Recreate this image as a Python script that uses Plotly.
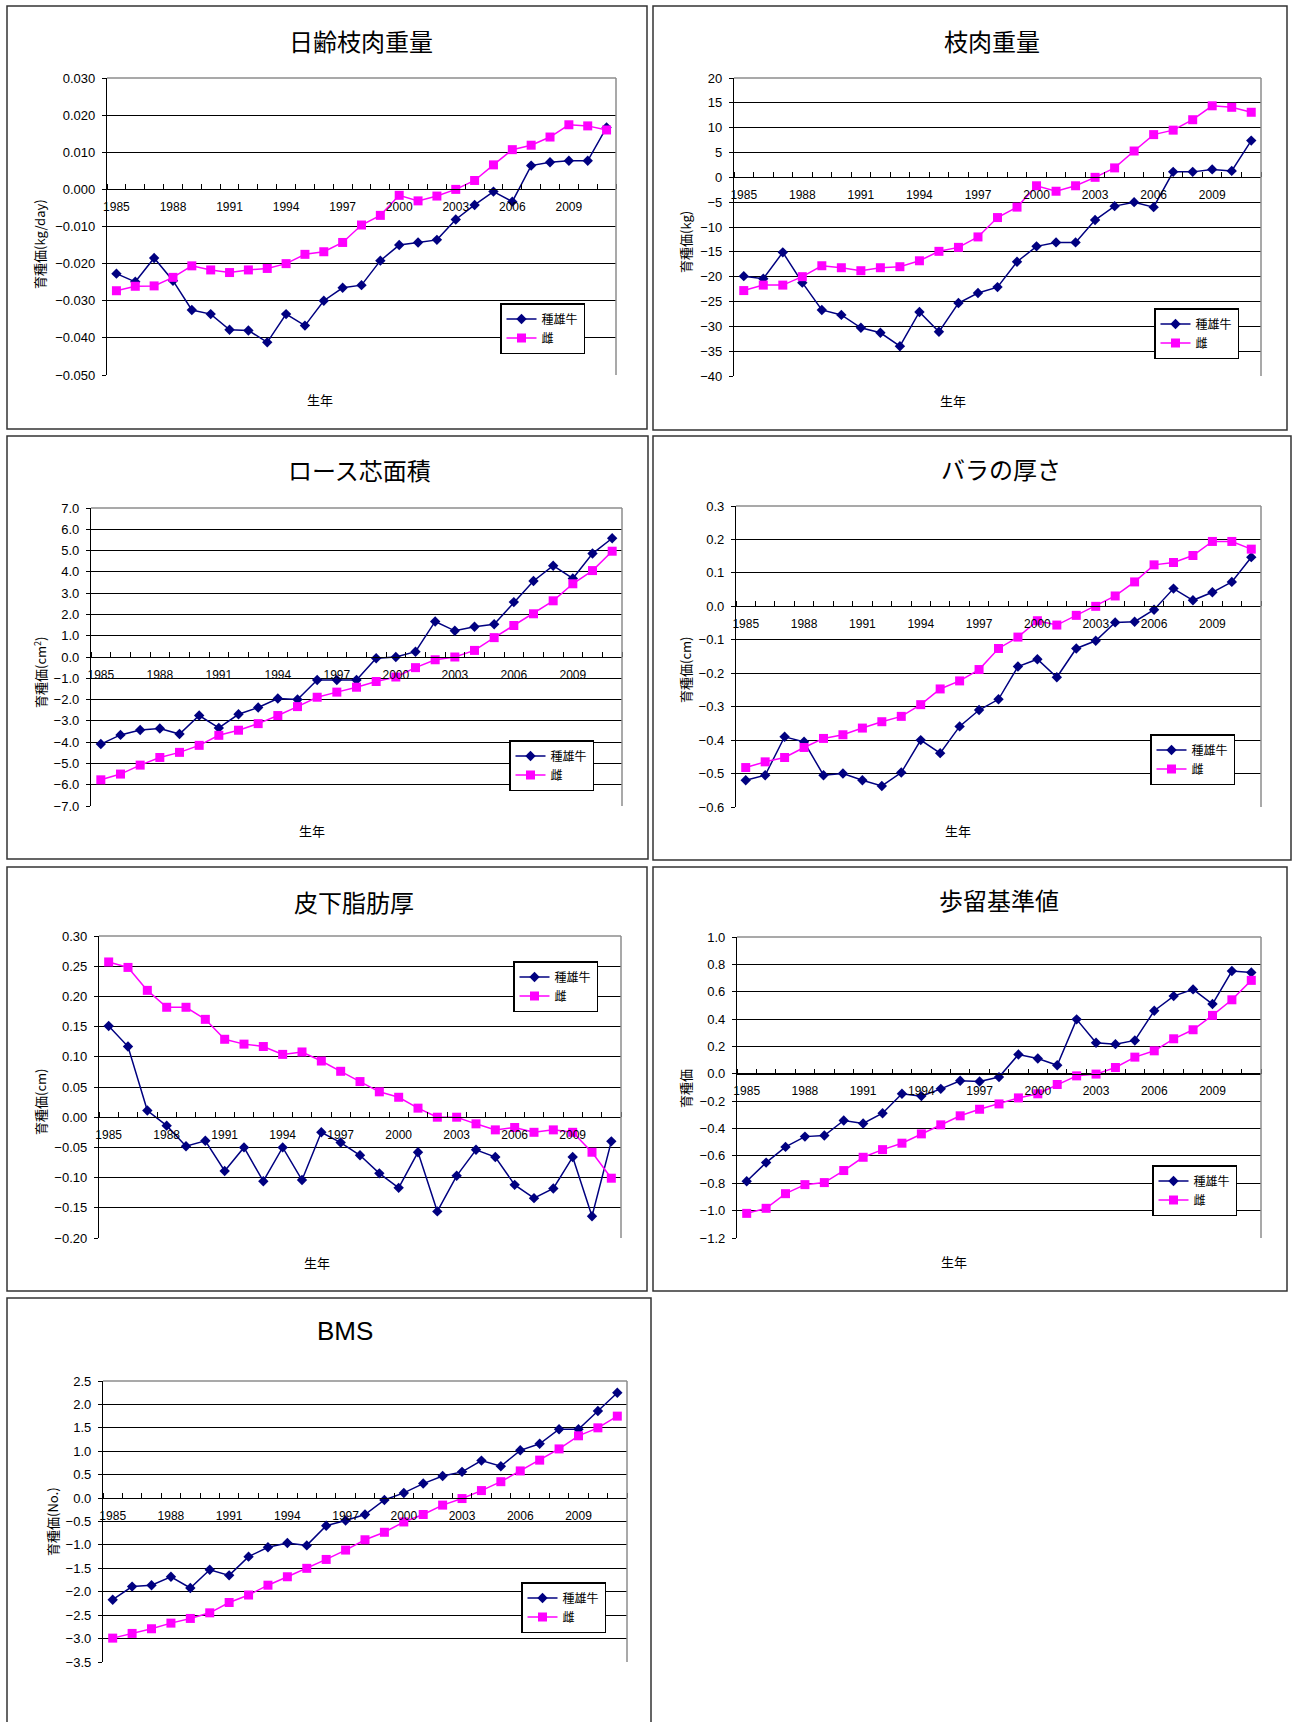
import plotly.graph_objects as go

W, H = 1293, 1722

years = [1985, 1986, 1987, 1988, 1989, 1990, 1991, 1992, 1993, 1994, 1995, 1996, 1997, 1998,
         1999, 2000, 2001, 2002, 2003, 2004, 2005, 2006, 2007, 2008, 2009, 2010, 2011]
year_labels = [1985, 1988, 1991, 1994, 1997, 2000, 2003, 2006, 2009]
series_names = ["種雄牛", "雌"]

# 日齢枝肉重量
bull_daily = [-0.0227, -0.0249, -0.0185, -0.0246, -0.0325, -0.0336, -0.0378, -0.0380, -0.0412, -0.0336,
              -0.0367, -0.0300, -0.0265, -0.0258, -0.0192, -0.0150, -0.0143, -0.0136, -0.0081, -0.0042,
              -0.0006, -0.0033, 0.0064, 0.0073, 0.0077, 0.0077, 0.0167]
cow_daily = [-0.0273, -0.0261, -0.0260, -0.0237, -0.0206, -0.0217, -0.0224, -0.0217, -0.0213, -0.0200,
             -0.0175, -0.0168, -0.0143, -0.0096, -0.0070, -0.0016, -0.0031, -0.0018, 0.0000, 0.0024,
             0.0066, 0.0107, 0.0119, 0.0141, 0.0174, 0.0171, 0.0160]
# 枝肉重量
bull_carcass = [-19.9, -20.4, -15.1, -21.2, -26.7, -27.7, -30.3, -31.3, -34.0, -27.1, -31.1, -25.3, -23.3,
                -22.1, -17.0, -13.9, -13.1, -13.1, -8.6, -5.8, -5.0, -6.0, 1.1, 1.1, 1.6, 1.3, 7.4]
cow_carcass = [-22.8, -21.7, -21.7, -20.0, -17.8, -18.2, -18.8, -18.2, -18.0, -16.8, -14.9, -14.1, -12.0,
               -8.1, -6.0, -1.7, -2.8, -1.7, 0.0, 1.9, 5.3, 8.6, 9.5, 11.6, 14.4, 14.1, 13.1]
# ロース芯面積
bull_rib = [-4.09, -3.66, -3.43, -3.36, -3.62, -2.75, -3.33, -2.69, -2.37, -1.95, -2.00, -1.08, -1.08,
            -1.08, -0.06, 0.00, 0.25, 1.67, 1.23, 1.42, 1.54, 2.58, 3.57, 4.29, 3.69, 4.86, 5.58]
cow_rib = [-5.77, -5.50, -5.08, -4.72, -4.48, -4.15, -3.68, -3.44, -3.13, -2.75, -2.33, -1.89, -1.65,
           -1.42, -1.15, -0.94, -0.50, -0.13, 0.00, 0.31, 0.91, 1.48, 2.03, 2.64, 3.44, 4.06, 4.97]
# バラの厚さ
bull_rib_thick = [-0.520, -0.505, -0.390, -0.405, -0.505, -0.500, -0.520, -0.537, -0.497, -0.400, -0.439,
                  -0.359, -0.310, -0.278, -0.180, -0.158, -0.212, -0.126, -0.103, -0.048, -0.046, -0.010,
                  0.053, 0.018, 0.042, 0.073, 0.147]
cow_rib_thick = [-0.482, -0.465, -0.452, -0.422, -0.395, -0.384, -0.364, -0.345, -0.329, -0.294, -0.247,
                 -0.223, -0.189, -0.126, -0.092, -0.043, -0.056, -0.027, 0.000, 0.031, 0.073, 0.124,
                 0.131, 0.152, 0.194, 0.194, 0.171]
# 皮下脂肪厚
bull_fat = [0.151, 0.117, 0.011, -0.014, -0.048, -0.039, -0.089, -0.050, -0.106, -0.050, -0.104, -0.025,
            -0.042, -0.063, -0.093, -0.117, -0.058, -0.156, -0.097, -0.054, -0.066, -0.112, -0.134,
            -0.118, -0.066, -0.164, -0.040]
cow_fat = [0.257, 0.248, 0.210, 0.182, 0.182, 0.162, 0.129, 0.121, 0.117, 0.104, 0.108, 0.093, 0.076,
           0.059, 0.042, 0.033, 0.015, 0.000, 0.000, -0.011, -0.021, -0.017, -0.025, -0.021, -0.025,
           -0.058, -0.101]
# 歩留基準値
bull_yield = [-0.785, -0.649, -0.534, -0.459, -0.451, -0.341, -0.363, -0.288, -0.146, -0.163, -0.110,
              -0.051, -0.056, -0.024, 0.141, 0.112, 0.063, 0.398, 0.227, 0.217, 0.244, 0.461, 0.568,
              0.617, 0.510, 0.751, 0.741]
cow_yield = [-1.020, -0.983, -0.876, -0.810, -0.795, -0.707, -0.610, -0.554, -0.507, -0.439, -0.373,
             -0.307, -0.259, -0.220, -0.176, -0.146, -0.078, -0.015, -0.002, 0.046, 0.122, 0.168,
             0.256, 0.322, 0.427, 0.541, 0.683]
# BMS
bull_bms = [-2.17, -1.89, -1.86, -1.68, -1.92, -1.53, -1.65, -1.25, -1.05, -0.96, -1.01, -0.59, -0.48,
            -0.35, -0.04, 0.11, 0.31, 0.47, 0.56, 0.80, 0.68, 1.02, 1.16, 1.47, 1.47, 1.86, 2.25]
cow_bms = [-2.99, -2.89, -2.79, -2.67, -2.57, -2.45, -2.23, -2.07, -1.86, -1.68, -1.50, -1.31, -1.11,
           -0.89, -0.73, -0.51, -0.35, -0.15, -0.01, 0.16, 0.35, 0.58, 0.81, 1.05, 1.33, 1.50, 1.75]

titles = ["日齢枝肉重量", "枝肉重量", "ロース芯面積", "バラの厚さ", "皮下脂肪厚", "歩留基準値", "BMS"]
y_titles = ["育種価(kg/day)", "育種価(kg)", "育種価(cm<sup>2</sup>)", "育種価(cm)", "育種価(cm)",
            "育種価", "育種価(No.)"]
x_title = "生年"
bull_series = [bull_daily, bull_carcass, bull_rib, bull_rib_thick, bull_fat, bull_yield, bull_bms]
cow_series = [cow_daily, cow_carcass, cow_rib, cow_rib_thick, cow_fat, cow_yield, cow_bms]

# axis settings: (min, max, dtick, format)
y_axes = [(-0.05, 0.03, 0.01, ".3f"), (-40, 20, 5, "d"), (-7, 7, 1, ".1f"), (-0.6, 0.3, 0.1, ".1f"),
          (-0.2, 0.3, 0.05, ".2f"), (-1.2, 1.0, 0.2, ".1f"), (-3.5, 2.5, 0.5, ".1f")]

# layout in pixels
plot_boxes = [(107, 616, 78, 375), (734, 1261, 78, 376), (91, 622, 508, 806), (736, 1261, 506, 807),
              (99, 621, 936, 1238), (737, 1261, 937, 1238), (103, 627, 1381, 1662)]
frames = [(7, 647, 6, 429), (653, 1287, 6, 430), (7, 648, 436, 859), (653, 1291, 436, 860),
          (7, 647, 867, 1291), (653, 1287, 867, 1291), (7, 651, 1298, 1740)]
title_pos = [(361, 40), (992, 40), (359, 470), (1001, 469), (354, 901), (999, 899), (345, 1331)]
ytitle_pos = [(40, 244), (686, 242), (40, 672), (685, 670), (40, 1102), (685, 1089), (52, 1522)]
xtitle_pos = [(320, 400), (953, 401), (312, 830), (958, 830), (317, 1262), (954, 1261), None]
legend_pos = [(500, 303), (1154, 308), (509, 740), (1150, 734), (513, 961), (1152, 1165), (521, 1582)]

NAVY = "#000080"
MAGENTA = "#FF00FF"
FONT = "Liberation Sans, Noto Sans CJK JP, sans-serif"
CJK = "Noto Sans CJK JP, sans-serif"


def px(x):
    return x / W


def py(y):
    return 1 - y / H


fig = go.Figure()
layout = dict(
    width=W, height=H, autosize=False,
    margin=dict(l=0, r=0, t=0, b=0, pad=0, autoexpand=False),
    paper_bgcolor="white", plot_bgcolor="white",
    font=dict(family=FONT, size=12, color="black"),
    showlegend=True,
)
shapes = []
annotations = []

for i in range(7):
    n = "" if i == 0 else str(i + 1)
    xa, ya = "xaxis" + n, "yaxis" + n
    xr, yr = "x" + n, "y" + n
    l, r, t, b = plot_boxes[i]
    ymin, ymax, dt, fmt = y_axes[i]
    yd0, yd1 = py(b), py(t)
    zero_pos = yd0 + (0 - ymin) / (ymax - ymin) * (yd1 - yd0)
    legname = "legend" if i == 0 else "legend" + str(i + 1)

    fig.add_trace(go.Scatter(
        x=years, y=bull_series[i], name=series_names[0], mode="lines+markers",
        line=dict(color=NAVY, width=1.5), marker=dict(symbol="diamond", size=8, color=NAVY),
        xaxis=xr, yaxis=yr, legend=legname, cliponaxis=False))
    fig.add_trace(go.Scatter(
        x=years, y=cow_series[i], name=series_names[1], mode="lines+markers",
        line=dict(color=MAGENTA, width=1.5), marker=dict(symbol="square", size=9, color=MAGENTA),
        xaxis=xr, yaxis=yr, legend=legname, cliponaxis=False))

    layout[xa] = dict(
        domain=[px(l), px(r)], range=[1984.5, 2011.5], type="linear",
        anchor="free", position=zero_pos, automargin=False,
        tickmode="array", tickvals=year_labels, ticktext=[str(v) for v in year_labels],
        ticks="outside", ticklen=6, tickcolor="rgba(0,0,0,0)",
        minor=dict(ticks="inside", ticklen=5, tickcolor="black", tickmode="linear",
                   tick0=1984.5, dtick=1, showgrid=False),
        showgrid=False, zeroline=False, showline=True, linecolor="black", linewidth=1.3,
        tickfont=dict(size=12, family=FONT), fixedrange=True,
    )
    layout[ya] = dict(
        domain=[yd0, yd1], range=[ymin, ymax], anchor=xr, automargin=False,
        tickmode="linear", tick0=ymin, dtick=dt, tickformat=fmt,
        ticks="outside", ticklen=4, tickcolor="black", ticklabelstandoff=4,
        showgrid=True, gridcolor="black", gridwidth=1.2, zeroline=False,
        showline=True, linecolor="black", linewidth=1.3,
        tickfont=dict(size=13, family=FONT), fixedrange=True,
    )
    lx, ly = legend_pos[i]
    layout[legname] = dict(
        x=px(lx), y=py(ly), xanchor="left", yanchor="top",
        bordercolor="black", borderwidth=1.5, bgcolor="white",
        font=dict(size=12, family=CJK), itemwidth=30, tracegroupgap=0,
    )

    # gray top/right plot border
    shapes.append(dict(type="line", xref=xr + " domain", yref=yr + " domain", x0=0, x1=1, y0=1, y1=1,
                       line=dict(color="#8c8c8c", width=1.5), layer="above"))
    shapes.append(dict(type="line", xref=xr + " domain", yref=yr + " domain", x0=1, x1=1, y0=0, y1=1,
                       line=dict(color="#8c8c8c", width=1.5), layer="above"))

    # chart frame
    fl, fr, ft, fb = frames[i]
    shapes.append(dict(type="rect", xref="paper", yref="paper", x0=px(fl), x1=px(fr), y0=py(fb), y1=py(ft),
                       line=dict(color="#333333", width=1.5), fillcolor="rgba(0,0,0,0)", layer="below"))

    tx, ty = title_pos[i]
    annotations.append(dict(text=titles[i], x=px(tx), y=py(ty), xref="paper", yref="paper",
                            xanchor="center", yanchor="middle", showarrow=False,
                            font=dict(size=24 if i < 6 else 26, family=CJK if i < 6 else FONT,
                                      color="black")))
    yx, yy = ytitle_pos[i]
    annotations.append(dict(text=y_titles[i], x=px(yx), y=py(yy), xref="paper", yref="paper",
                            xanchor="center", yanchor="middle", showarrow=False, textangle=-90,
                            font=dict(size=13, family=CJK, color="black")))
    if xtitle_pos[i] is not None:
        xx, xy = xtitle_pos[i]
        annotations.append(dict(text=x_title, x=px(xx), y=py(xy), xref="paper", yref="paper",
                                xanchor="center", yanchor="middle", showarrow=False,
                                font=dict(size=13, family=CJK, color="black")))

layout["shapes"] = shapes
layout["annotations"] = annotations
fig.update_layout(**layout)
fig.write_html("out.html", config={"displayModeBar": False},
               post_script="document.body.style.margin='0';document.body.style.padding='0';")
